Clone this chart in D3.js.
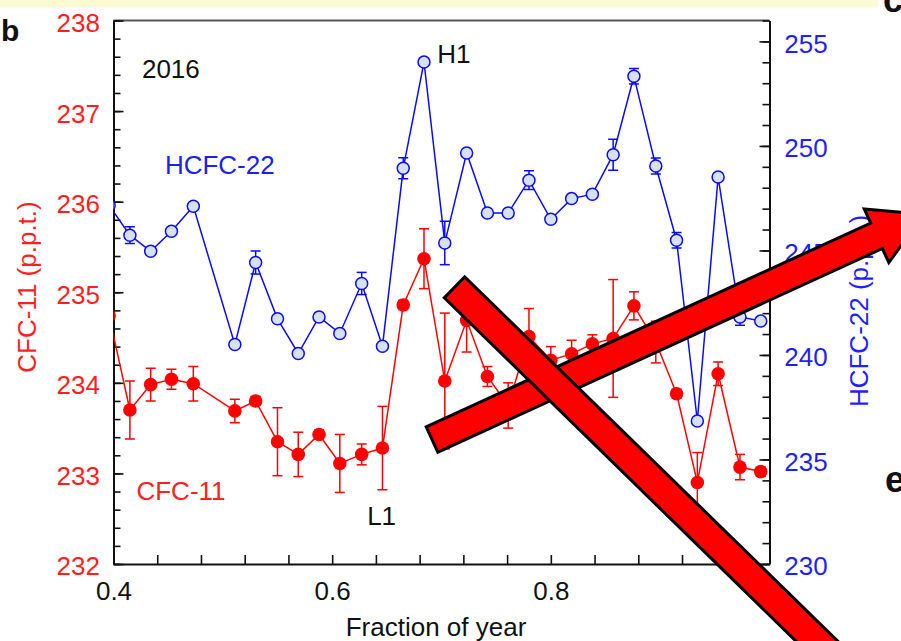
<!DOCTYPE html>
<html>
<head>
<meta charset="utf-8">
<script src="https://cdn.jsdelivr.net/npm/d3@7"></script>
<style>
  html, body { margin: 0; padding: 0; background: #fff; }
  svg { display: block; font-family: "Liberation Sans", Arial, Helvetica, sans-serif; }
</style>
</head>
<body>
<svg id="chart" width="901" height="641"></svg>
<script>
// Weekly samples, 2016: fraction of year (the first sample sits just before 0.4)
const yearFraction = [0.396, 0.415, 0.434, 0.453, 0.473, 0.511, 0.530, 0.550, 0.569, 0.588,
  0.607, 0.627, 0.646, 0.665, 0.684, 0.703, 0.723, 0.742, 0.761, 0.780,
  0.800, 0.819, 0.838, 0.857, 0.876, 0.896, 0.915, 0.934, 0.953, 0.973, 0.992];

// CFC-11 mole fraction (p.p.t.) and its uncertainty
const cfc11 = [234.74, 233.70, 233.98, 234.04, 233.99, 233.69, 233.80, 233.35, 233.21, 233.43,
  233.11, 233.21, 233.28, 234.86, 235.37, 234.02, 234.69, 234.07, 233.75, 234.51,
  234.25, 234.32, 234.43, 234.49, 234.85, 234.45, 233.88, 232.90, 234.10, 233.07, 233.02];
const cfc11Err = [0.20, 0.32, 0.18, 0.11, 0.19, 0.13, 0.05, 0.375, 0.245, 0.05,
  0.32, 0.115, 0.46, 0.05, 0.33, 0.75, 0.35, 0.11, 0.25, 0.31,
  0.15, 0.15, 0.10, 0.65, 0.155, 0.23, 0.05, 0.33, 0.13, 0.14, 0.05];

// HCFC-22 mole fraction (p.p.t.) and its uncertainty
const hcfc22 = [247.15, 245.73, 244.96, 245.92, 247.11, 240.50, 244.42, 241.73, 240.07, 241.82,
  241.03, 243.42, 240.42, 248.93, 254.01, 245.36, 249.66, 246.79, 246.79, 248.36,
  246.49, 247.48, 247.69, 249.58, 253.33, 249.04, 245.49, 236.84, 248.51, 241.82, 241.62];
const hcfc22Err = [0.30, 0.40, 0.10, 0.10, 0.10, 0.10, 0.55, 0.10, 0.10, 0.10,
  0.10, 0.53, 0.10, 0.50, 0.10, 1.04, 0.10, 0.10, 0.10, 0.45,
  0.10, 0.10, 0.10, 0.74, 0.37, 0.38, 0.37, 0.10, 0.10, 0.40, 0.10];

// Axis ticks
const xTicks = [0.40, 0.44, 0.48, 0.52, 0.56, 0.60, 0.64, 0.68, 0.72, 0.76, 0.80, 0.84, 0.88, 0.92, 0.96, 1.00];
const xTickLabels = [0.4, 0.6, 0.8];
const cfcMajorTicks = [232, 233, 234, 235, 236, 237, 238];
const cfcMinorTicks = d3.range(0, 31).map(i => 232 + i * 0.2);
const hcfcMajorTicks = [230, 235, 240, 245, 250, 255];
const hcfcMinorTicks = d3.range(230, 257, 1);

// Text annotations, placed in data units (x: fraction of year, y: CFC-11 axis)
const notes = [
  { text: "2016",    t: 0.426, v: 237.37, color: "#111" },
  { text: "HCFC-22", t: 0.447, v: 236.31, color: "#2020ee" },
  { text: "CFC-11",  t: 0.421, v: 232.71, color: "#ff2020" },
  { text: "L1",      t: 0.632, v: 232.43, color: "#111" },
  { text: "H1",      t: 0.696, v: 237.53, color: "#111" }
];

const RED = "#ff0000", BLUE = "#0a0aff";
const plot = { left: 113.5, right: 769.5, top: 20.5, bottom: 564 };
const svg = d3.select("#chart");

const x = d3.scaleLinear().domain([0.4, 1.0]).range([plot.left, plot.right]);
const yL = d3.scaleLinear().domain([232, 238]).range([plot.bottom, plot.top]);
const yR = d3.scaleLinear().domain([230, 256]).range([plot.bottom, plot.top]);

// page header strip and neighbouring panel letters
svg.append("rect").attr("x", 0).attr("y", 0).attr("width", 878).attr("height", 7.5).attr("fill", "#fcfad3");
svg.append("text").attr("x", 1).attr("y", 40.5).attr("font-size", 30).attr("font-weight", "bold").attr("fill", "#111").text("b");
svg.append("text").attr("x", 883).attr("y", 11.5).attr("font-size", 36).attr("font-weight", "bold").attr("fill", "#111").text("c");
svg.append("text").attr("x", 885).attr("y", 492).attr("font-size", 36).attr("font-weight", "bold").attr("fill", "#111").text("e");

// clip for the data marks
svg.append("defs").append("clipPath").attr("id", "plotClip")
  .append("rect").attr("x", plot.left).attr("y", plot.top)
  .attr("width", plot.right - plot.left).attr("height", plot.bottom - plot.top);

function styleAxis(g, color, width) {
  g.selectAll(".domain").attr("stroke", "#111").attr("stroke-width", 2);
  g.selectAll(".tick line").attr("stroke", "#111").attr("stroke-width", width);
  g.selectAll(".tick text").attr("fill", color).attr("font-size", 26)
    .attr("font-family", "\"Liberation Sans\", Arial, Helvetica, sans-serif");
}

// top frame line
svg.append("line").attr("x1", plot.left).attr("x2", plot.right)
  .attr("y1", plot.top).attr("y2", plot.top)
  .attr("stroke", "#555").attr("stroke-width", 2);

// bottom axis
const gx = svg.append("g").attr("transform", `translate(0,${plot.bottom})`)
  .call(d3.axisBottom(x).tickValues(xTicks).tickSizeInner(-9).tickSizeOuter(0).tickPadding(18)
    .tickFormat(d => xTickLabels.some(v => Math.abs(v - d) < 1e-6) ? d3.format(".1f")(d) : ""));
styleAxis(gx, "#111", 1.6);

// left axis (CFC-11)
const gLm = svg.append("g").attr("transform", `translate(${plot.left},0)`)
  .call(d3.axisLeft(yL).tickValues(cfcMinorTicks).tickSizeInner(-7).tickSizeOuter(0).tickFormat(""));
gLm.select(".domain").remove();
styleAxis(gLm, RED, 1.6);
const gL = svg.append("g").attr("transform", `translate(${plot.left},0)`)
  .call(d3.axisLeft(yL).tickValues(cfcMajorTicks).tickSizeInner(-10).tickSizeOuter(0).tickPadding(13.5)
    .tickFormat(d3.format("d")));
styleAxis(gL, "#ff1f1f", 1.6);
gL.selectAll(".tick text").attr("dy", "0.42em");

// right axis (HCFC-22)
const gRm = svg.append("g").attr("transform", `translate(${plot.right},0)`)
  .call(d3.axisRight(yR).tickValues(hcfcMinorTicks).tickSizeInner(-7).tickSizeOuter(0).tickFormat(""));
gRm.select(".domain").remove();
styleAxis(gRm, BLUE, 1.6);
const gR = svg.append("g").attr("transform", `translate(${plot.right},0)`)
  .call(d3.axisRight(yR).tickValues(hcfcMajorTicks).tickSizeInner(-10).tickSizeOuter(0).tickPadding(14.8)
    .tickFormat(d3.format("d")));
styleAxis(gR, "#1f1fff", 1.6);
gR.selectAll(".tick text").attr("dy", "0.42em");

// axis titles
svg.append("text").attr("x", 436).attr("y", 636).attr("text-anchor", "middle")
  .attr("font-size", 26).attr("fill", "#111").text("Fraction of year");
svg.append("text").attr("transform", "translate(36,287) rotate(-90)").attr("text-anchor", "middle")
  .attr("font-size", 26).attr("fill", "#ff1f1f").text("CFC-11 (p.p.t.)");
svg.append("text").attr("transform", "translate(868,311) rotate(-90)").attr("text-anchor", "middle")
  .attr("font-size", 26).attr("fill", "#1f1fff").text("HCFC-22 (p.p.t.)");

// annotations
svg.append("g").selectAll("text").data(notes).join("text")
  .attr("x", d => x(d.t)).attr("y", d => yL(d.v))
  .attr("font-size", 26).attr("fill", d => d.color).text(d => d.text);

// data series
const data = yearFraction.map((t, i) => ({
  t, cfc: cfc11[i], cfcE: cfc11Err[i], hcfc: hcfc22[i], hcfcE: hcfc22Err[i]
}));
const marks = svg.append("g").attr("clip-path", "url(#plotClip)");

function drawSeries(key, errKey, y, lineColor, fill, r, strokeW) {
  const g = marks.append("g");
  g.append("path").datum(data)
    .attr("fill", "none").attr("stroke", lineColor).attr("stroke-width", 1.5)
    .attr("d", d3.line().x(d => x(d.t)).y(d => y(d[key])));
  const eb = g.append("g").attr("stroke", lineColor).attr("stroke-width", 1.5);
  data.forEach(d => {
    const y1 = y(d[key] - d[errKey]), y2 = y(d[key] + d[errKey]), cx = x(d.t);
    eb.append("line").attr("x1", cx).attr("x2", cx).attr("y1", y1).attr("y2", y2);
    eb.append("line").attr("x1", cx - 5).attr("x2", cx + 5).attr("y1", y1).attr("y2", y1);
    eb.append("line").attr("x1", cx - 5).attr("x2", cx + 5).attr("y1", y2).attr("y2", y2);
  });
  g.append("g").selectAll("circle").data(data).join("circle")
    .attr("cx", d => x(d.t)).attr("cy", d => y(d[key])).attr("r", r)
    .attr("fill", fill).attr("stroke", strokeW ? lineColor : "none").attr("stroke-width", strokeW);
}
drawSeries("hcfc", "hcfcE", yR, BLUE, "#d6e2f0", 6, 1.5);
drawSeries("cfc", "cfcE", yL, RED, RED, 6.8, 0);

// overlaid red arrows
function arrow(tail, angle, shaftLen, halfW, headHalfW, headLen) {
  const p = d3.path();
  p.moveTo(0, -halfW);
  p.lineTo(shaftLen, -halfW);
  if (headLen > 0) {
    p.lineTo(shaftLen, -headHalfW);
    p.lineTo(shaftLen + headLen, 0);
    p.lineTo(shaftLen, headHalfW);
  }
  p.lineTo(shaftLen, halfW);
  p.lineTo(0, halfW);
  p.closePath();
  svg.append("path").attr("d", p.toString())
    .attr("transform", `translate(${tail[0]},${tail[1]}) rotate(${angle})`)
    .attr("fill", "#ff0000").attr("stroke", "#000").attr("stroke-width", 3)
    .attr("stroke-linejoin", "miter");
}
arrow([432, 439.5], -24.62, 489, 14, 29.5, 52);
arrow([454.5, 287.3], 44.32, 720, 14.6, 0, 0);
</script>
</body>
</html>
